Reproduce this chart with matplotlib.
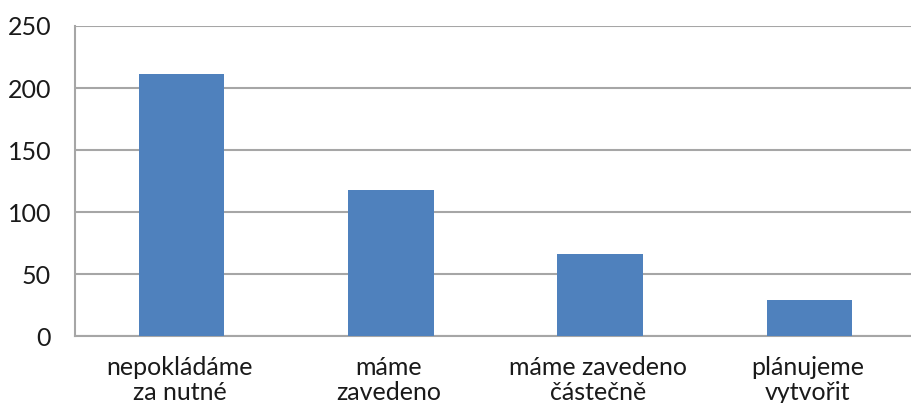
import matplotlib
matplotlib.use("Agg")
import matplotlib.pyplot as plt

categories = ["nepokládáme\nza nutné", "máme\nzavedeno", "máme zavedeno\nčástečně", "plánujeme\nvytvořit"]
values = [211, 118, 66, 29]
yticks = [0, 50, 100, 150, 200, 250]

plt.rcParams["font.family"] = ["Lato", "DejaVu Sans"]

fig = plt.figure(figsize=(9.12, 4.03), dpi=100)
ax = fig.add_axes([0.082, 0.166, 0.918, 0.7695])

x = range(len(categories))
ax.bar([i + 0.01 for i in x], values, width=0.41, color="#4f81bd", zorder=3)

ax.set_xlim(-0.5, 3.5)
ax.set_ylim(0, 250)
ax.set_yticks(yticks)
ax.set_yticklabels([str(t) for t in yticks], fontsize=18, color="#1a1a1a")
ax.set_xticks(list(x))
ax.set_xticklabels(categories, fontsize=18, color="#1a1a1a", linespacing=1.15)

ax.grid(axis="y", color="#a6a6a6", linewidth=1.5, zorder=0)
ax.tick_params(axis="both", length=0)
ax.tick_params(axis="y", pad=17)
ax.tick_params(axis="x", pad=14)

for side in ["top", "right"]:
    ax.spines[side].set_visible(False)
ax.spines["left"].set_color("#a6a6a6")
ax.spines["left"].set_linewidth(1.5)
ax.spines["bottom"].set_color("#a6a6a6")
ax.spines["bottom"].set_linewidth(1.5)

fig.savefig("out.png", dpi=100)
